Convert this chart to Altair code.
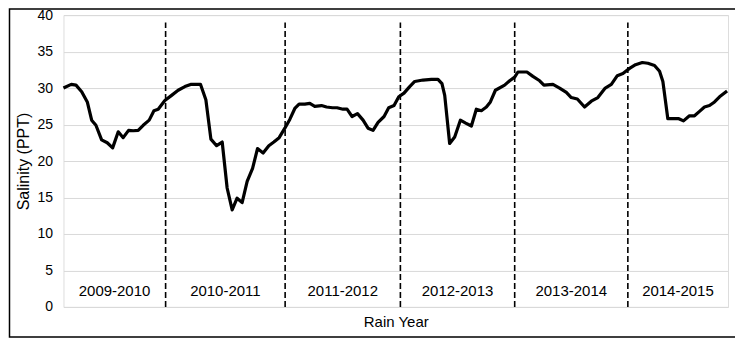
import altair as alt
import pandas as pd

# months since the start of the record (approx.) and salinity (PPT)
month = [0.0, 0.82, 1.32, 1.92, 2.51, 2.97, 3.42, 4.02, 4.61, 5.18, 5.77, 6.29, 6.86, 7.35, 7.87,
         8.40, 9.03, 9.53, 9.98, 10.68, 11.39, 12.08, 12.79, 13.39, 14.44, 15.0, 15.53, 16.13,
         16.72, 17.24, 17.77, 18.29, 18.82, 19.35, 19.92, 20.44, 21.03, 21.63, 22.16, 22.72,
         23.32, 23.84, 24.37, 24.82, 25.42, 25.95, 26.47, 27.18, 27.71, 28.34, 28.82, 29.45,
         29.87, 30.40, 30.97, 31.56, 32.08, 32.61, 33.14, 33.77, 34.26, 34.82, 35.32, 35.87,
         36.47, 37.0, 37.87, 38.76, 39.45, 39.87, 40.16, 40.68, 41.21, 41.81, 42.37, 42.97,
         43.49, 44.02, 44.55, 44.97, 45.5, 46.47, 47.0, 47.53, 47.87, 48.82, 49.45, 50.16,
         50.61, 51.56, 52.26, 52.97, 53.49, 54.13, 54.89, 55.6, 56.29, 57.07, 57.71, 58.34,
         58.93, 59.63, 60.26, 60.97, 61.56, 62.26, 62.79, 63.14, 63.66, 64.19, 64.82, 65.31,
         65.94, 66.47, 67.0, 67.52, 68.05, 68.58, 69.11, 69.9]
salinity = [30.0, 30.5, 30.4, 29.5, 28.1, 25.6, 24.9, 22.9, 22.5, 21.8, 24.0, 23.2, 24.2, 24.15, 24.2,
            24.9, 25.6, 26.9, 27.1, 28.3, 29.0, 29.7, 30.2, 30.5, 30.5, 28.4, 23.0, 22.1,
            22.6, 16.3, 13.3, 14.9, 14.3, 17.2, 19.0, 21.7, 21.1, 22.1, 22.6, 23.2,
            24.5, 25.7, 27.2, 27.8, 27.8, 27.9, 27.5, 27.6, 27.4, 27.3, 27.3, 27.1,
            27.1, 26.1, 26.5, 25.6, 24.5, 24.2, 25.3, 26.1, 27.3, 27.6, 28.8, 29.3,
            30.2, 30.9, 31.1, 31.2, 31.2, 30.6, 29.0, 22.4, 23.3, 25.6, 25.2, 24.8,
            27.1, 26.9, 27.4, 28.1, 29.7, 30.4, 31.0, 31.5, 32.2, 32.2, 31.6, 31.0,
            30.4, 30.5, 30.0, 29.4, 28.7, 28.5, 27.4, 28.2, 28.7, 30.0, 30.5, 31.7,
            32.0, 32.7, 33.2, 33.5, 33.4, 33.1, 32.3, 30.9, 25.8, 25.8, 25.8, 25.5,
            26.2, 26.2, 26.8, 27.4, 27.6, 28.1, 28.8, 29.6]

years = ["2009-2010", "2010-2011", "2011-2012", "2012-2013", "2013-2014", "2014-2015"]
boundaries = [10.76, 23.35, 35.49, 47.53, 59.45]
y_ticks = [0, 5, 10, 15, 20, 25, 30, 35, 40]
x_max = 70
label_y = 2.2
dash_top = 39

FONT = "Liberation Sans"

df = pd.DataFrame({"month": month, "salinity": salinity})
starts = [0] + boundaries
ends = boundaries + [x_max]
lab = pd.DataFrame({"year": years,
                    "mid": [(a + b) / 2 for a, b in zip(starts, ends)],
                    "y": [label_y] * len(years)})
bnd = pd.DataFrame({"b": boundaries, "y0": [0] * len(boundaries), "y1": [dash_top] * len(boundaries)})

xs = alt.Scale(domain=[0, x_max], nice=False, zero=False)
ys = alt.Scale(domain=[0, 40], nice=False)

x_axis = alt.Axis(title="Rain Year", labels=False, ticks=False, grid=False,
                  domain=False, titleFontSize=15, titleFont=FONT,
                  titleFontWeight="normal", titleColor="#000", titlePadding=8)
y_axis = alt.Axis(title="Salinity (PPT)", values=y_ticks, ticks=False,
                  domain=False, grid=True, gridColor="#d9d9d9", gridWidth=1,
                  labelOverlap=False,
                  labelFontSize=14, labelFont=FONT, labelColor="#000", labelPadding=11,
                  titleFontSize=16, titleFont=FONT, titleFontWeight="normal",
                  titleColor="#000", titlePadding=5)

line = alt.Chart(df).mark_line(color="black", strokeWidth=3.2, strokeJoin="round").encode(
    x=alt.X("month:Q", scale=xs, axis=x_axis),
    y=alt.Y("salinity:Q", scale=ys, axis=y_axis),
)

rules = alt.Chart(bnd).mark_rule(color="black", strokeWidth=1.6, strokeDash=[6, 3]).encode(
    x=alt.X("b:Q", scale=xs, axis=x_axis), y=alt.Y("y0:Q", scale=ys, axis=y_axis), y2="y1:Q")

labels = alt.Chart(lab).mark_text(fontSize=15, font=FONT, color="#000", baseline="middle").encode(
    x=alt.X("mid:Q", scale=xs, axis=x_axis), y=alt.Y("y:Q", scale=ys, axis=y_axis), text="year:N")

frame = alt.Chart(lab.head(1)).mark_rect(fill=None, stroke="black", strokeWidth=1.5).encode(
    x=alt.value(-54), x2=alt.value(676), y=alt.value(-6), y2=alt.value(322))

chart = alt.layer(line, rules, labels, frame).properties(
    width=665, height=292,
    autosize=alt.AutoSizeParams(type="none"),
    padding={"left": 55.5, "top": 7, "right": 7, "bottom": 33},
).configure_view(stroke="#8c8c8c", strokeWidth=1.2).configure(background="white")

chart.save("out.html", embed_options={"renderer": "svg", "actions": False})
